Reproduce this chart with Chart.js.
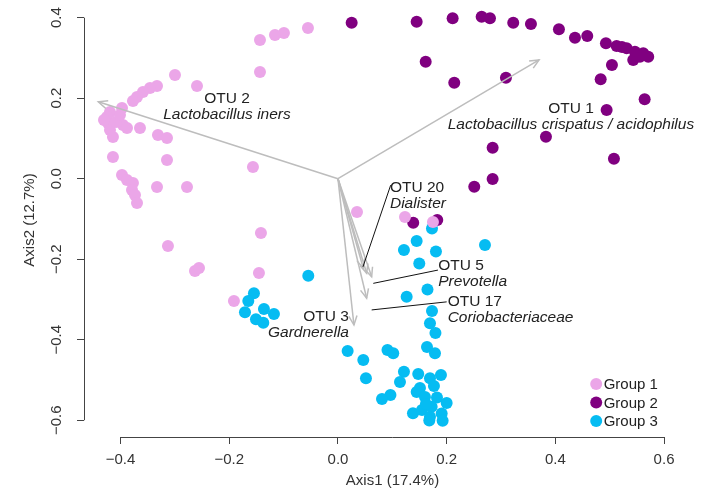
<!DOCTYPE html>
<html>
<head>
<meta charset="utf-8">
<script src="https://cdn.jsdelivr.net/npm/chart.js@4/dist/chart.umd.min.js"></script>
<style>
html,body{margin:0;padding:0;background:#ffffff;}
canvas{display:block;}
</style>
</head>
<body>
<canvas id="c" width="701" height="490"></canvas>
<script>
// ---------------- data ----------------
const groupLabels = ['Group 1', 'Group 2', 'Group 3'];

const group1X = [-0.0552,-0.0994,-0.1159,-0.1435,-0.1435,-0.2999,-0.2594,-0.3330,-0.3459,-0.3588,
                 -0.3698,-0.3772,-0.3974,-0.4195,-0.4250,-0.4232,-0.4195,-0.4140,-0.3956,-0.3882,
                 -0.3643,-0.3312,-0.3146,-0.4140,-0.3146,-0.1564,-0.3974,-0.3882,-0.3772,-0.3790,
                 -0.3735,-0.3698,-0.3330,-0.2778,-0.1417,-0.3128,-0.2631,-0.2557,-0.1454,-0.1914,
                  0.0350, 0.1233, 0.1748,-0.4305,-0.4085,-0.4011];
const group1Y = [ 0.3744, 0.3620, 0.3570, 0.3446, 0.2651, 0.2576, 0.2303, 0.2303, 0.2253, 0.2154,
                  0.2030, 0.1930, 0.1757, 0.1657, 0.1533, 0.1384, 0.1210, 0.1036, 0.1334, 0.1260,
                  0.1260, 0.1086, 0.1011, 0.0539, 0.0465, 0.0291, 0.0092,-0.0032,-0.0107,-0.0281,
                 -0.0405,-0.0604,-0.0206,-0.0206,-0.1349,-0.1672,-0.2293,-0.2219,-0.2343,-0.3039,
                 -0.0827,-0.0952,-0.1076, 0.1458, 0.1409, 0.1583];

const group2X = [0.0252,0.1448,0.2110,0.2644,0.2797,0.3225,0.3551,0.4066,0.4361,0.4587,
                 0.4931,0.5128,0.5312,0.5465,0.5617,0.5709,0.5433,0.5557,0.5225,0.5041,
                 0.4834,0.5643,0.4944,0.1614,0.2140,0.3091,0.3827,0.2846,0.5078,0.2846,
                 0.2508,0.1385,0.1827];
const group2Y = [0.3876,0.3901,0.3985,0.4025,0.3985,0.3876,0.3844,0.3712,0.3503,0.3545,
                 0.3364,0.3297,0.3240,0.3155,0.3116,0.3031,0.2949,0.3031,0.3272,0.2825,
                 0.2470,0.1973,0.1707,0.2907,0.2385,0.2509,0.1043,0.0770,0.0497,-0.0007,
                 -0.0199,-0.1093,-0.1026];

const group3X = [-0.0546,-0.1546,-0.1650,-0.1711,-0.1362,-0.1178,-0.1509,-0.1374, 0.0178, 0.1730,
                  0.1448, 0.1214, 0.1803, 0.1496, 0.2705, 0.1264, 0.1647, 0.1730, 0.1693, 0.1794,
                  0.1638, 0.1785, 0.0466, 0.0515, 0.0911, 0.1017, 0.1214, 0.1141, 0.0966, 0.0810,
                  0.1477, 0.1693, 0.1895, 0.1509, 0.1766, 0.1448, 0.1601, 0.1822, 0.2000, 0.1380,
                  0.1546, 0.1724, 0.1693, 0.1908, 0.1680, 0.1926, 0.1619];
const group3Y = [-0.2410,-0.2847,-0.3039,-0.3319,-0.3237,-0.3362,-0.3493,-0.3578,-0.4281,-0.1237,
                 -0.1548,-0.1771,-0.1809,-0.2107,-0.1647,-0.2932,-0.2753,-0.3287,-0.3593,-0.3834,
                 -0.4181,-0.4338,-0.4504,-0.4959,-0.4256,-0.4338,-0.4795,-0.5051,-0.5374,-0.5473,
                 -0.4852,-0.4959,-0.4877,-0.5200,-0.5150,-0.5299,-0.5424,-0.5436,-0.5573,-0.5829,
                 -0.5747,-0.5665,-0.5913,-0.5834,-0.6008,-0.6013,-0.5598];

const xTicks = [-0.4, -0.2, 0.0, 0.2, 0.4, 0.6];
const yTicks = [-0.6, -0.4, -0.2, 0.0, 0.2, 0.4];

// biplot arrows (OTU loadings); the last arrow carries no label in the original
const otuNames = ['OTU 1', 'OTU 2', 'OTU 3', 'OTU 20', 'OTU 5', 'OTU 17', ''];
const otuTaxa  = ['Lactobacillus crispatus / acidophilus', 'Lactobacillus iners', 'Gardnerella',
                  'Dialister', 'Prevotella', 'Coriobacteriaceae', ''];
const otuTipX  = [0.370, -0.441, 0.0294, 0.0466, 0.0620, 0.0528, 0.0528];
const otuTipY  = [0.295,  0.191, -0.3635, -0.2226, -0.2435, -0.2971, -0.2350];

// ---------------- layout / style ----------------
const FONT = "'Liberation Sans', Arial, Helvetica, sans-serif";
Chart.defaults.font.family = FONT;
const colors = ['#EBA6E8', '#800080', '#06BCF2'];

// label anchors in data units (first-line baseline); leader lines in data units
const labelLayout = [
  {x: 0.4287, y: 0.1640, align: 'center'},
  {x: -0.2042, y: 0.1888, align: 'center'},
  {x: 0.0202, y: -0.3535, align: 'right'},
  {x: 0.0957, y: -0.0323, align: 'left'},
  {x: 0.1845, y: -0.2256, align: 'left'},
  {x: 0.2018, y: -0.3163, align: 'left'},
  null
];
const leaders = [
  null, null, null,
  [0.097, -0.016, 0.046, -0.219],
  [0.184, -0.227, 0.065, -0.260],
  [0.200, -0.306, 0.062, -0.326],
  null
];

function fmt(v) {
  if (Math.abs(v) < 1e-9) return '0.0';
  return v.toFixed(1).replace('-', '\u2212');
}
function pts(xs, ys) { return xs.map((x, i) => ({x: x, y: ys[i]})); }
function noPad(s) { s.paddingTop = 0; s.paddingBottom = 0; s.paddingLeft = 0; s.paddingRight = 0; }

function drawArrow(ctx, x0, y0, x1, y1) {
  ctx.beginPath(); ctx.moveTo(x0, y0); ctx.lineTo(x1, y1); ctx.stroke();
  const a = Math.atan2(y1 - y0, x1 - x0), L = 10, w = Math.PI / 7.5;
  ctx.beginPath();
  ctx.moveTo(x1 - L * Math.cos(a - w), y1 - L * Math.sin(a - w));
  ctx.lineTo(x1, y1);
  ctx.lineTo(x1 - L * Math.cos(a + w), y1 - L * Math.sin(a + w));
  ctx.stroke();
}

const overlay = {
  id: 'overlay',
  afterDatasetsDraw(chart) {
    const ctx = chart.ctx, xs = chart.scales.x, ys = chart.scales.y, ca = chart.chartArea;
    ctx.save();
    // axis lines spanning the tick range (R style)
    ctx.strokeStyle = '#444'; ctx.lineWidth = 1;
    ctx.beginPath();
    ctx.moveTo(xs.getPixelForValue(xTicks[0]), Math.round(ca.bottom) + 0.5);
    ctx.lineTo(xs.getPixelForValue(xTicks[xTicks.length - 1]), Math.round(ca.bottom) + 0.5);
    ctx.moveTo(Math.round(ca.left) + 0.5, ys.getPixelForValue(yTicks[0]));
    ctx.lineTo(Math.round(ca.left) + 0.5, ys.getPixelForValue(yTicks[yTicks.length - 1]));
    ctx.stroke();

    // arrows
    const ox = xs.getPixelForValue(0), oy = ys.getPixelForValue(0);
    ctx.strokeStyle = '#BDBDBD'; ctx.lineWidth = 1.5;
    for (let i = 0; i < otuTipX.length; i++) {
      drawArrow(ctx, ox, oy, xs.getPixelForValue(otuTipX[i]), ys.getPixelForValue(otuTipY[i]));
    }
    // leader lines
    ctx.strokeStyle = '#111'; ctx.lineWidth = 1;
    leaders.forEach(l => {
      if (!l) return;
      ctx.beginPath();
      ctx.moveTo(xs.getPixelForValue(l[0]), ys.getPixelForValue(l[1]));
      ctx.lineTo(xs.getPixelForValue(l[2]), ys.getPixelForValue(l[3]));
      ctx.stroke();
    });
    // labels
    ctx.fillStyle = '#222'; ctx.textBaseline = 'alphabetic';
    labelLayout.forEach((p, i) => {
      if (!p) return;
      const px = xs.getPixelForValue(p.x), py = ys.getPixelForValue(p.y);
      ctx.textAlign = p.align;
      ctx.font = '15.5px ' + FONT;
      ctx.fillText(otuNames[i], px, py);
      ctx.font = 'italic 15.5px ' + FONT;
      ctx.fillText(otuTaxa[i], px, py + 16);
    });
    // legend
    const lx = ca.right - 104.8, ly = ca.bottom - 53;
    ctx.font = '15px ' + FONT; ctx.textAlign = 'left'; ctx.textBaseline = 'middle';
    chart.data.datasets.forEach((d, i) => {
      const y = ly + i * 18.5;
      ctx.fillStyle = d.backgroundColor;
      ctx.beginPath(); ctx.arc(lx, y, 6, 0, Math.PI * 2); ctx.fill();
      ctx.fillStyle = '#222';
      ctx.fillText(d.label, lx + 7.5, y + 1);
    });
    ctx.restore();
  }
};

new Chart(document.getElementById('c'), {
  type: 'scatter',
  data: {
    datasets: [
      {label: groupLabels[0], data: pts(group1X, group1Y), backgroundColor: colors[0]},
      {label: groupLabels[1], data: pts(group2X, group2Y), backgroundColor: colors[1]},
      {label: groupLabels[2], data: pts(group3X, group3Y), backgroundColor: colors[2]}
    ]
  },
  options: {
    responsive: false,
    animation: false,
    devicePixelRatio: 1,
    layout: {autoPadding: false, padding: {top: 3, right: 0, bottom: 0, left: 0}},
    elements: {point: {radius: 6, hoverRadius: 6, borderWidth: 0}},
    plugins: {legend: {display: false}, tooltip: {enabled: false}},
    scales: {
      x: {
        type: 'linear', min: -0.4673, max: 0.668,
        afterBuildTicks: s => { s.ticks = xTicks.map(v => ({value: v})); },
        afterFit: s => { s.height = 53; noPad(s); },
        grid: {drawOnChartArea: false, drawTicks: true, tickLength: 7, color: '#444', lineWidth: 1},
        border: {display: false},
        ticks: {callback: v => fmt(v), font: {size: 15}, color: '#333', padding: 7,
                maxRotation: 0, minRotation: 0, autoSkip: false},
        title: {display: true, text: 'Axis1 (17.4%)', font: {size: 15}, color: '#333',
                padding: {top: 0, bottom: 0}}
      },
      y: {
        type: 'linear', min: -0.6417, max: 0.4365,
        afterBuildTicks: s => { s.ticks = yTicks.map(v => ({value: v})); },
        afterFit: s => { s.width = 84; noPad(s); },
        grid: {drawOnChartArea: false, drawTicks: true, tickLength: 7, color: '#444', lineWidth: 1},
        border: {display: false},
        ticks: {callback: v => fmt(v), font: {size: 15}, color: '#333', padding: 5,
                minRotation: 90, maxRotation: 90, crossAlign: 'center', autoSkip: false},
        title: {display: true, text: 'Axis2 (12.7%)', font: {size: 15}, color: '#333',
                padding: {top: 21, bottom: 0}}
      }
    }
  },
  plugins: [overlay]
});
</script>
</body>
</html>
